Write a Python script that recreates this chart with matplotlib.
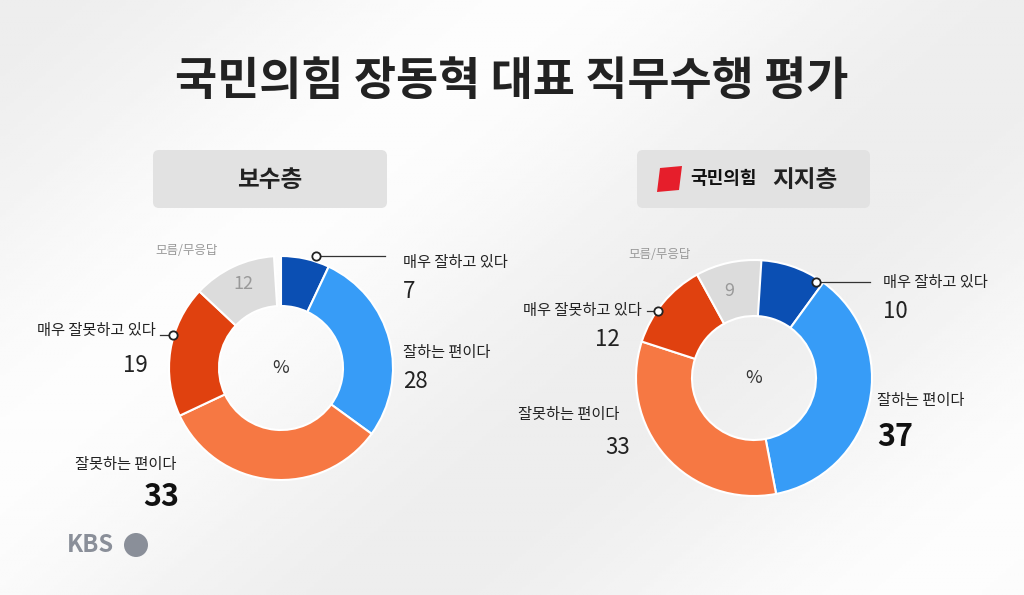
import matplotlib.pyplot as plt
from matplotlib.patches import Wedge, FancyBboxPatch, Polygon, Circle
import numpy as np

plt.rcParams['font.family'] = ['Noto Sans CJK KR', 'DejaVu Sans']

categories = ['매우 잘하고 있다', '잘하는 편이다', '잘못하는 편이다', '매우 잘못하고 있다', '모름/무응답']
left_vals = [7, 28, 33, 19, 12]
right_vals = [10, 37, 33, 12, 9]
colors = ['#0b4fb3', '#379cf7', '#f67843', '#e0410f', '#dcdcdc']

W, H = 1024, 595
fig = plt.figure(figsize=(10.24, 5.95), dpi=100)
bg = fig.add_axes([0, 0, 1, 1])
grad = np.linspace(0, 1, 256)
img = 0.93 + 0.06 * np.sin(np.outer(np.ones(256), grad) * 3 + np.outer(grad, np.ones(256)) * 2) ** 2
bg.imshow(img, cmap='gray', vmin=0, vmax=1, extent=[0, W, 0, H], aspect='auto')
ax = bg
ax.set_xlim(0, W)
ax.set_ylim(0, H)
ax.axis('off')

def Y(y):
    return H - y

def donut(cx, cy, r_out, r_in, vals):
    start = 0
    for v, c in zip(vals, colors):
        t2 = 90 - start * 3.6
        t1 = 90 - (start + v) * 3.6
        ax.add_patch(Wedge((cx, Y(cy)), r_out, t1, t2, width=r_out - r_in, facecolor=c, edgecolor='white', lw=1.5))
        start += v
    ax.text(cx, Y(cy), '%', ha='center', va='center', fontsize=13, color='#333333')

def leader(px, py, qx):
    ax.plot([px, qx], [Y(py), Y(py)], color='#333333', lw=0.9)
    ax.plot(px, Y(py), 'o', ms=6, mfc='white', mec='#222222', mew=1.3)

# title
ax.text(512, Y(82), '국민의힘 장동혁 대표 직무수행 평가', ha='center', va='center', fontsize=33, fontweight='bold', color='#222222')

# header boxes
for x0, x1 in [(153, 387), (637, 870)]:
    ax.add_patch(FancyBboxPatch((x0, Y(208)), x1 - x0, 58, boxstyle='round,pad=0,rounding_size=6', facecolor='#e2e2e2', edgecolor='none'))
ax.text(270, Y(180), '보수층', ha='center', va='center', fontsize=17, fontweight='bold', color='#222222')
ax.add_patch(Polygon([(660, Y(168)), (682, Y(166)), (679, Y(190)), (657, Y(192))], closed=True, facecolor='#e61e2b', edgecolor='none'))
ax.text(690, Y(179), '국민의힘', ha='left', va='center', fontsize=13, fontweight='bold', color='#111111')
ax.text(772, Y(180), '지지층', ha='left', va='center', fontsize=17, fontweight='bold', color='#222222')

# left donut
donut(281, 368, 112, 62, left_vals)
leader(316, 256, 385)
ax.text(403, Y(263), categories[0], fontsize=11, va='center', color='#222222')
ax.text(403, Y(292), str(left_vals[0]), fontsize=16, va='center', color='#222222')
ax.text(403, Y(352), categories[1], fontsize=11, va='center', color='#222222')
ax.text(403, Y(382), str(left_vals[1]), fontsize=16, va='center', color='#222222')
ax.text(75, Y(465), categories[2], fontsize=11, va='center', color='#222222')
ax.text(143, Y(497), str(left_vals[2]), fontsize=22, fontweight='bold', va='center', color='#111111')
leader(173, 335, 160)
ax.text(156, Y(330), categories[3], fontsize=11, va='center', ha='right', color='#222222')
ax.text(148, Y(366), str(left_vals[3]), fontsize=16, va='center', ha='right', color='#222222')
ax.text(155, Y(250), categories[4], fontsize=9, va='center', color='#999999')
ax.text(243, Y(284), str(left_vals[4]), fontsize=13, va='center', ha='center', color='#999999')

# right donut
donut(754, 378, 118, 62, right_vals)
leader(816, 282, 870)
ax.text(883, Y(283), categories[0], fontsize=11, va='center', color='#222222')
ax.text(883, Y(312), str(right_vals[0]), fontsize=16, va='center', color='#222222')
ax.text(877, Y(400), categories[1], fontsize=11, va='center', color='#222222')
ax.text(877, Y(437), str(right_vals[1]), fontsize=22, fontweight='bold', va='center', color='#111111')
ax.text(518, Y(414), categories[2], fontsize=11, va='center', color='#222222')
ax.text(605, Y(447), str(right_vals[2]), fontsize=16, va='center', color='#222222')
leader(658, 311, 647)
ax.text(642, Y(310), categories[3], fontsize=11, va='center', ha='right', color='#222222')
ax.text(620, Y(340), str(right_vals[3]), fontsize=16, va='center', ha='right', color='#222222')
ax.text(628, Y(255), categories[4], fontsize=9, va='center', color='#999999')
ax.text(729, Y(291), str(right_vals[4]), fontsize=13, va='center', ha='center', color='#999999')

# KBS logo
ax.text(67, Y(545), 'KBS', fontsize=17, fontweight='bold', va='center', color='#8a8f99')
ax.add_patch(Circle((136, Y(545)), 12, facecolor='#8a8f99', edgecolor='none'))

fig.savefig('out.png', dpi=100)
